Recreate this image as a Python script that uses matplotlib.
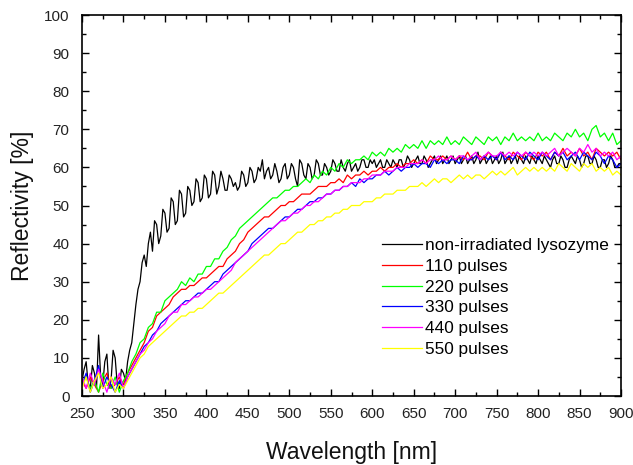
import numpy as np
import matplotlib
matplotlib.use("Agg")
import matplotlib.pyplot as plt
from matplotlib.ticker import MultipleLocator

plt.rcParams['font.family'] = ['Liberation Sans', 'DejaVu Sans']

# non-irradiated reference sampled every 2.5 nm (very noisy), others every 5 nm
wavelength_ref = np.arange(250, 900.1, 2.5)
wavelength = np.arange(250, 901, 5)

non_irradiated = [
    4, 7, 9, 3, 2, 8, 6, 2, 16, 5,
    3, 9, 11, 2, 4, 12, 10, 3, 2, 7,
    6, 4, 9, 12, 14, 19, 24, 28, 30, 35,
    37, 34, 40, 43, 38, 46, 45, 40, 42, 49,
    48, 43, 44, 52, 51, 45, 46, 54, 53, 47,
    48, 55, 54, 50, 51, 57, 56, 51, 52, 58,
    57, 52, 53, 59, 58, 53, 55, 59, 57, 54,
    54, 58, 57, 55, 56, 54, 55, 59, 58, 55,
    56, 60, 59, 56, 57, 60, 59, 62, 57, 59,
    60, 57, 58, 61, 59, 56, 57, 60, 61, 57,
    58, 61, 60, 57, 55, 62, 61, 58, 57, 61,
    60, 57, 58, 62, 61, 58, 58, 61, 60, 58,
    59, 62, 61, 59, 59, 62, 60, 59, 61, 62,
    59, 60, 61, 59, 60, 62, 62, 60, 60, 62,
    61, 62, 60, 61, 62, 60, 60, 62, 61, 60,
    62, 61, 60, 62, 62, 60, 61, 63, 62, 60,
    61, 62, 63, 61, 61, 63, 62, 60, 61, 62,
    63, 61, 62, 63, 61, 62, 63, 61, 62, 63,
    61, 62, 63, 61, 62, 63, 61, 62, 63, 61,
    62, 64, 61, 62, 63, 61, 62, 63, 61, 62,
    63, 61, 62, 64, 61, 62, 63, 61, 62, 63,
    61, 63, 62, 61, 63, 62, 61, 63, 62, 61,
    63, 62, 61, 63, 62, 61, 60, 62, 63, 61,
    61, 63, 62, 60, 60, 62, 63, 62, 61, 63,
    62, 60, 61, 63, 63, 61, 61, 63, 62, 60,
    60, 62, 62, 60, 61, 63, 62, 60, 60, 61,
    61]

pulses_110 = [
    4, 2, 5, 3, 1, 4, 6, 2, 3, 5, 3,
    6, 8, 10, 12, 14, 17, 18, 21, 22, 23, 24, 26, 27, 28, 28, 29, 29, 30, 31,
    31, 32, 33, 34, 34, 36, 37, 38, 40, 41, 43, 44, 45, 46, 47, 47, 48, 49, 50, 50,
    51, 51, 52, 53, 53, 53, 54, 55, 55, 55, 56, 56, 57, 56, 58, 57, 58, 58, 59, 58,
    59, 59, 60, 59, 60, 60, 61, 60, 61, 61, 62, 61, 62, 61, 63, 62, 62, 63, 62, 63,
    62, 63, 62, 64, 62, 63, 63, 62, 64, 63, 62, 64, 63, 62, 64, 63, 62, 64, 63, 62,
    64, 63, 64, 62, 64, 63, 65, 63, 64, 63, 65, 63, 64, 62, 65, 64, 63, 64, 63, 64,
    62]

pulses_220 = [
    3, 5, 2, 4, 1, 6, 3, 2, 5, 1, 4,
    6, 9, 11, 14, 15, 18, 19, 22, 22, 25, 26, 27, 28, 30, 29, 31, 30, 32, 32,
    34, 34, 36, 36, 38, 39, 41, 42, 44, 45, 46, 47, 48, 49, 50, 51, 52, 52, 53, 54,
    54, 55, 55, 56, 57, 56, 58, 57, 59, 58, 60, 59, 61, 60, 62, 61, 62, 62, 63, 62,
    64, 63, 64, 63, 65, 64, 65, 64, 66, 65, 66, 65, 67, 65, 67, 66, 67, 66, 68, 66,
    67, 66, 68, 67, 66, 68, 67, 66, 68, 67, 68, 66, 68, 67, 69, 67, 68, 67, 68, 67,
    69, 67, 68, 67, 69, 68, 67, 69, 68, 70, 68, 69, 67, 70, 71, 68, 69, 67, 69, 66,
    67]

pulses_330 = [
    3, 6, 1, 4, 8, 2, 5, 3, 1, 4, 2,
    5, 7, 9, 11, 13, 14, 16, 17, 19, 20, 21, 22, 23, 24, 25, 25, 26, 27, 27,
    28, 29, 30, 30, 32, 33, 34, 35, 36, 37, 38, 40, 41, 42, 43, 44, 44, 45, 46, 47,
    47, 48, 49, 49, 50, 51, 51, 52, 52, 53, 53, 54, 54, 55, 55, 56, 55, 57, 56, 57,
    57, 58, 58, 59, 58, 59, 60, 59, 60, 60, 61, 60, 61, 61, 60, 62, 61, 62, 61, 62,
    62, 61, 63, 62, 62, 63, 62, 63, 62, 63, 62, 64, 62, 63, 62, 64, 63, 62, 64, 63,
    62, 64, 63, 62, 64, 63, 64, 62, 63, 64, 62, 64, 63, 62, 64, 63, 61, 63, 62, 60,
    61]

pulses_440 = [
    5, 2, 6, 3, 7, 4, 1, 5, 3, 6, 2,
    5, 7, 9, 11, 12, 14, 15, 17, 18, 19, 21, 22, 22, 24, 24, 25, 26, 26, 27,
    28, 28, 29, 30, 31, 32, 33, 35, 36, 37, 38, 39, 40, 41, 42, 43, 44, 45, 46, 46,
    47, 48, 48, 49, 50, 50, 51, 51, 52, 53, 53, 54, 54, 55, 55, 56, 56, 56, 57, 57,
    58, 58, 58, 59, 59, 59, 60, 60, 60, 61, 61, 61, 62, 61, 62, 62, 63, 62, 62, 63,
    62, 63, 63, 62, 63, 64, 62, 63, 64, 63, 63, 64, 63, 64, 63, 64, 63, 64, 63, 64,
    63, 64, 63, 64, 65, 63, 64, 65, 64, 63, 65, 64, 66, 64, 65, 63, 64, 63, 64, 62,
    63]

pulses_550 = [
    2, 5, 1, 4, 6, 2, 3, 5, 1, 3, 2,
    4, 6, 8, 10, 11, 13, 14, 15, 16, 17, 18, 19, 20, 21, 21, 22, 22, 23, 23,
    24, 25, 26, 27, 27, 28, 29, 30, 31, 32, 33, 34, 35, 36, 37, 37, 38, 39, 40, 40,
    41, 42, 43, 43, 44, 45, 45, 46, 46, 47, 47, 48, 48, 49, 49, 50, 50, 50, 51, 51,
    51, 52, 52, 53, 53, 53, 54, 54, 54, 55, 55, 55, 56, 55, 56, 57, 56, 57, 57, 56,
    57, 58, 57, 58, 57, 58, 58, 57, 58, 59, 58, 59, 58, 59, 60, 58, 59, 60, 59, 60,
    59, 60, 59, 60, 59, 61, 60, 59, 61, 60, 59, 61, 60, 61, 59, 60, 59, 60, 58, 59,
    58]

series = [
    (wavelength_ref, non_irradiated, "non-irradiated lysozyme", "#000000"),
    (wavelength, pulses_110, "110 pulses", "#ff0000"),
    (wavelength, pulses_220, "220 pulses", "#00ff00"),
    (wavelength, pulses_330, "330 pulses", "#0000ff"),
    (wavelength, pulses_440, "440 pulses", "#ff00ff"),
    (wavelength, pulses_550, "550 pulses", "#ffff00"),
]

fig = plt.figure(figsize=(6.33, 4.65), dpi=100)
ax = fig.add_axes([82/633, 1-396/465, 539/633, 381/465])

for xs, vals, lab, col in series:
    ax.plot(xs, vals, color=col, lw=0.9, label=lab)

ax.set_xlim(250, 900)
ax.set_ylim(0, 100)
ax.xaxis.set_major_locator(MultipleLocator(50))
ax.xaxis.set_minor_locator(MultipleLocator(25))
ax.yaxis.set_major_locator(MultipleLocator(10))
ax.yaxis.set_minor_locator(MultipleLocator(5))
ax.tick_params(which='both', direction='in', top=True, right=True, width=1.0)
ax.tick_params(which='major', length=5, labelsize=11, labelcolor='#222222')
ax.tick_params(axis='x', which='major', pad=8)
ax.tick_params(axis='y', which='major', pad=9)
ax.tick_params(which='minor', length=3)
for sp in ax.spines.values():
    sp.set_linewidth(1.2)

ax.set_xlabel("Wavelength [nm]", fontsize=16.5, color='#111111')
ax.set_ylabel("Reflectivity [%]", fontsize=16.5, color='#111111')
ax.xaxis.set_label_coords(0.5, -0.118)
ax.yaxis.set_label_coords(-0.089, 0.5)

leg = ax.legend(loc='upper left', bbox_to_anchor=(382/633, 1-238/465),
                bbox_transform=fig.transFigure, frameon=False, fontsize=12.4,
                borderpad=0, borderaxespad=0, handlelength=2.3,
                handletextpad=0.2, labelspacing=0.33)

fig.savefig("out.png", dpi=100)
